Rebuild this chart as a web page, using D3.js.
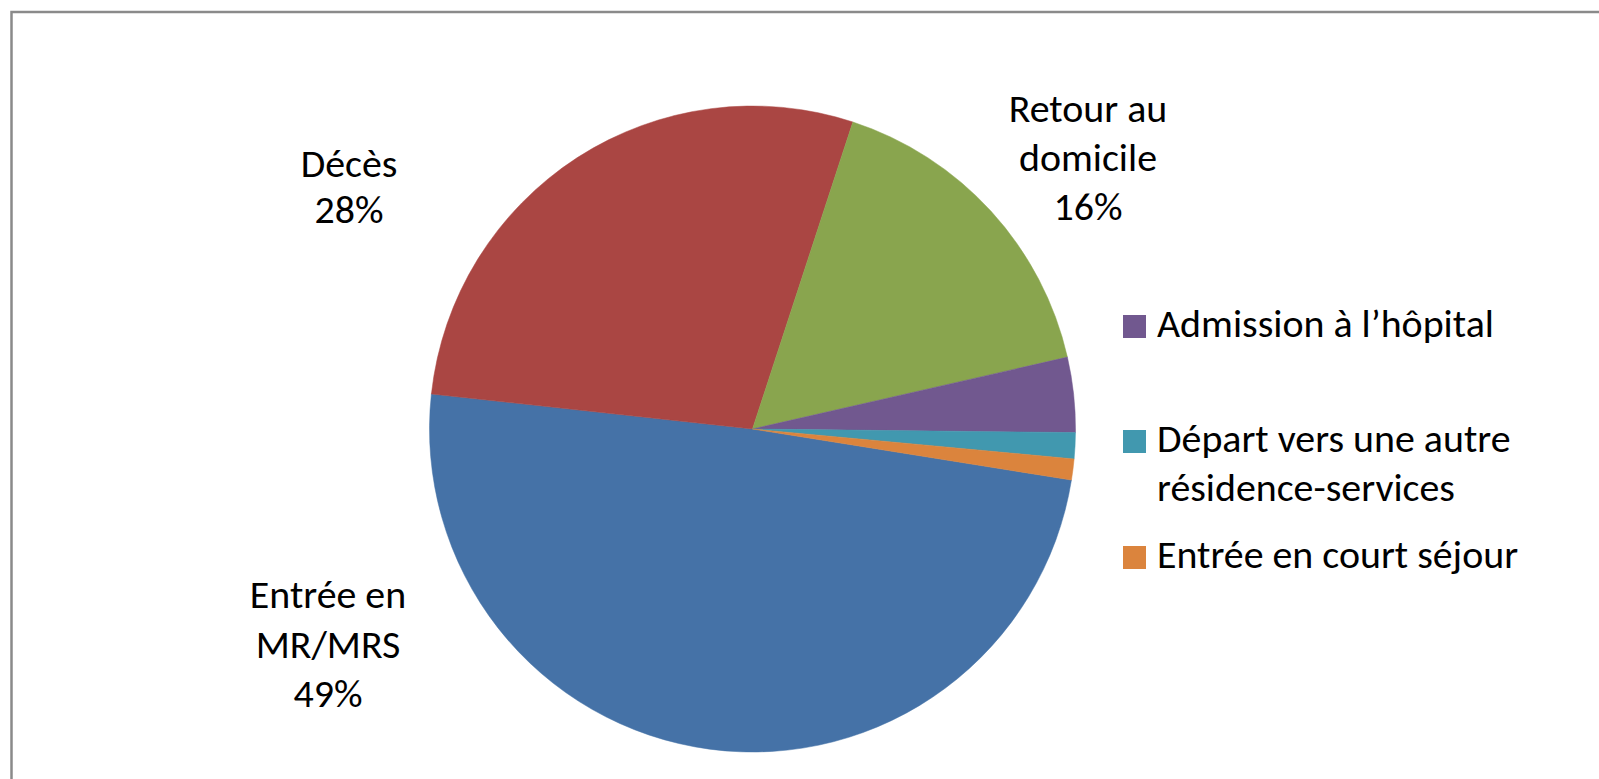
<!DOCTYPE html>
<html>
<head>
<meta charset="utf-8">
<script src="https://cdn.jsdelivr.net/npm/d3@7"></script>
<style>
html,body{margin:0;padding:0;background:#fff;}
svg{display:block;}
text{font-family:Carlito,Calibri,Lato,"Open Sans",sans-serif;fill:#000;}
</style>
</head>
<body>
<svg id="chart" width="1599" height="779"></svg>
<script>
const categories = ["Entrée en MR/MRS", "Décès", "Retour au domicile", "Admission à l’hôpital", "Départ vers une autre résidence-services", "Entrée en court séjour"];
const values = [49.2, 28.3, 16.4, 3.75, 1.3, 1.05];
const colors = ["#4572A7", "#AA4643", "#89A54E", "#71588F", "#4198AF", "#DB843D"];
const sliceLabels = [["Entrée en", "MR/MRS", "49%"], ["Décès", "28%"], ["Retour au", "domicile", "16%"], null, null, null];
const legendLabels = [null, null, null, ["Admission à l’hôpital"], ["Départ vers une autre", "résidence-services"], ["Entrée en court séjour"]];

const svg = d3.select("#chart");
const W = 1599, H = 779;

// outer frame (top and left edges visible)
svg.append("rect").attr("x", 11.5).attr("y", 12).attr("width", W + 20).attr("height", H + 20)
  .attr("fill", "none").attr("stroke", "#8a8a8a").attr("stroke-width", 2.5);

const cx = 752.5, cy = 429, r = 323;
const startDeg = 99.1;
const total = d3.sum(values);

const pie = d3.pie().sort(null).value(d => d)
  .startAngle(startDeg * Math.PI / 180)
  .endAngle((startDeg + 360) * Math.PI / 180);
const arcs = pie(values);
const arc = d3.arc().innerRadius(0).outerRadius(r);

const g = svg.append("g").attr("transform", `translate(${cx},${cy})`);
g.selectAll("path").data(arcs).enter().append("path")
  .attr("d", arc)
  .attr("fill", (d, i) => colors[i])
  .attr("stroke", (d, i) => colors[i])
  .attr("stroke-width", 0.5);

// font size: fit legend text width
const targetW = 337;
const probe = svg.append("text").attr("font-size", 100).text("Admission à l’hôpital");
const pw = probe.node().getComputedTextLength();
probe.remove();
const fs = 100 * targetW / pw;

// slice labels positions (outside end)
const labelPos = [[328, 608.3, 49.2], [349, 176.7, 46.6], [1088, 121.7, 49.2]];
sliceLabels.forEach((lines, i) => {
  if (!lines) return;
  const [x, y0, lh] = labelPos[i];
  const t = svg.append("text").attr("text-anchor", "middle").attr("font-size", fs);
  lines.forEach((s, k) => t.append("tspan").attr("x", x).attr("y", y0 + k * lh).text(s));
});

// legend
const legY = [null, null, null, 315, 430, 546];
const leg = svg.append("g");
legendLabels.forEach((lines, i) => {
  if (!lines) return;
  leg.append("rect").attr("x", 1123).attr("y", legY[i]).attr("width", 23).attr("height", 23).attr("fill", colors[i]);
  const t = leg.append("text").attr("font-size", fs);
  lines.forEach((s, k) => t.append("tspan").attr("x", 1157).attr("y", legY[i] + 22 + k * 48.5).text(s));
});
</script>
</body>
</html>
